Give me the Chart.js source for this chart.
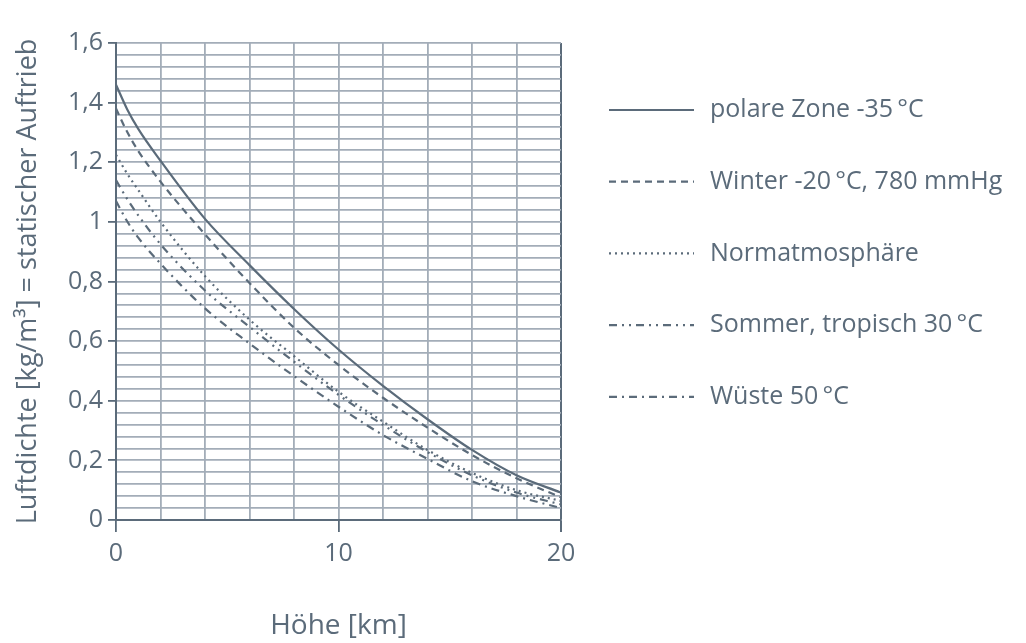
<!DOCTYPE html>
<html lang="de">
<head>
<meta charset="utf-8">
<title>Luftdichte</title>
<script src="https://cdn.jsdelivr.net/npm/chart.js@4/dist/chart.umd.min.js"></script>
<style>
  html, body { margin: 0; padding: 0; background: #fff; }
  #wrap { width: 1026px; height: 643px; }
</style>
</head>
<body>
<div id="wrap"><canvas id="mainChart" width="1026" height="643"></canvas></div>
<script>
// --- DATA ---
const heightKm = [0, 0.5, 1, 2, 4, 6, 8, 10, 12, 14, 16, 18, 20];
const polar  = [1.46, 1.378, 1.312, 1.205, 1.01, 0.855, 0.708, 0.572, 0.45, 0.338, 0.235, 0.15, 0.092];
const winter = [1.38, 1.302, 1.238, 1.135, 0.958, 0.795, 0.645, 0.52, 0.41, 0.31, 0.218, 0.14, 0.076];
const norm   = [1.225, 1.162, 1.107, 1.0, 0.818, 0.672, 0.55, 0.43, 0.33, 0.235, 0.158, 0.10, 0.064];
const sommer = [1.14, 1.077, 1.022, 0.925, 0.77, 0.648, 0.531, 0.42, 0.319, 0.228, 0.15, 0.092, 0.052];
const wueste = [1.07, 1.002, 0.947, 0.86, 0.71, 0.592, 0.483, 0.38, 0.285, 0.205, 0.13, 0.08, 0.04];
const seriesNames = ['polare Zone -35\u2009°C', 'Winter -20\u2009°C, 780 mmHg', 'Normatmosphäre', 'Sommer, tropisch 30\u2009°C', 'Wüste 50\u2009°C'];
const xLabelTicks = [0, 10, 20];

const INK = '#5b6b7a';
const GRID = '#a3adb8';
const FONT = '"Open Sans", "Noto Sans", sans-serif';
const dashes = [[], [7, 5], [2, 4], [8, 5, 2, 5, 2, 5], [8, 5, 2, 5]];

const pts = arr => arr.map((v, i) => ({ x: heightKm[i], y: v }));

// --- LEGEND (drawn to the right of the plot) ---
const sideLegend = {
    id: 'sideLegend',
    afterDraw(chart) {
        const c = chart.ctx;
        c.save();
        chart.data.datasets.forEach((ds, i) => {
            const y = 110 + i * 71.7;
            c.strokeStyle = ds.borderColor;
            c.lineWidth = ds.borderWidth;
            c.setLineDash(ds.borderDash || []);
            c.beginPath();
            c.moveTo(609, y);
            c.lineTo(694, y);
            c.stroke();
            c.setLineDash([]);
            c.fillStyle = INK;
            c.font = '25px ' + FONT;
            c.textBaseline = 'middle';
            c.fillText(ds.label, 710, y);
        });
        c.restore();
    }
};

const ctx = document.getElementById('mainChart').getContext('2d');
const mainChart = new Chart(ctx, {
    type: 'line',
    data: {
        datasets: [polar, winter, norm, sommer, wueste].map((arr, i) => ({
            label: seriesNames[i],
            data: pts(arr),
            borderColor: INK,
            borderWidth: 2.2,
            borderDash: dashes[i],
            pointRadius: 0,
            fill: false,
            cubicInterpolationMode: 'monotone'
        }))
    },
    options: {
        responsive: false,
        animation: false,
        layout: { padding: { left: 0, right: 465, top: 43, bottom: 0 } },
        plugins: { legend: { display: false }, tooltip: { enabled: false } },
        scales: {
            x: {
                type: 'linear', min: 0, max: 20,
                afterFit: s => { s.height = 123; },
                ticks: {
                    stepSize: 2, autoSkip: false, maxRotation: 0, padding: 7,
                    color: INK, font: { family: FONT, size: 25 },
                    callback: v => xLabelTicks.includes(v) ? String(v) : ''
                },
                grid: {
                    color: c => (c.tick && c.tick.value === 20) ? INK : GRID,
                    lineWidth: c => (c.tick && c.tick.value === 20) ? 2 : 1.8,
                    tickLength: 12,
                    tickColor: c => (c.tick && xLabelTicks.includes(c.tick.value)) ? INK : 'rgba(0,0,0,0)'
                },
                border: { color: INK, width: 2 },
                title: {
                    display: true, text: 'Höhe [km]', color: INK,
                    font: { family: FONT, size: 28 }, padding: { top: 0, bottom: 0 }
                }
            },
            y: {
                type: 'linear', min: 0, max: 1.6,
                afterFit: s => { s.width = 116; },
                ticks: {
                    stepSize: 0.04, autoSkip: false, padding: 5,
                    color: INK, font: { family: FONT, size: 25 },
                    callback: v => {
                        const r = Math.round(v * 5);
                        if (Math.abs(v * 5 - r) > 1e-6) return '';
                        return String(Math.round(v * 10) / 10).replace('.', ',');
                    }
                },
                grid: {
                    color: GRID,
                    lineWidth: 1.8,
                    tickLength: 8,
                    tickColor: c => {
                        const v = c.tick ? c.tick.value * 5 : 0.5;
                        return Math.abs(v - Math.round(v)) < 1e-6 ? INK : 'rgba(0,0,0,0)';
                    }
                },
                border: { color: INK, width: 2 },
                title: {
                    display: true, text: 'Luftdichte [kg/m³] = statischer Auftrieb', color: INK,
                    font: { family: FONT, size: 27 }, padding: { top: 12, bottom: 0 }
                }
            }
        }
    },
    plugins: [sideLegend]
});
</script>
</body>
</html>
